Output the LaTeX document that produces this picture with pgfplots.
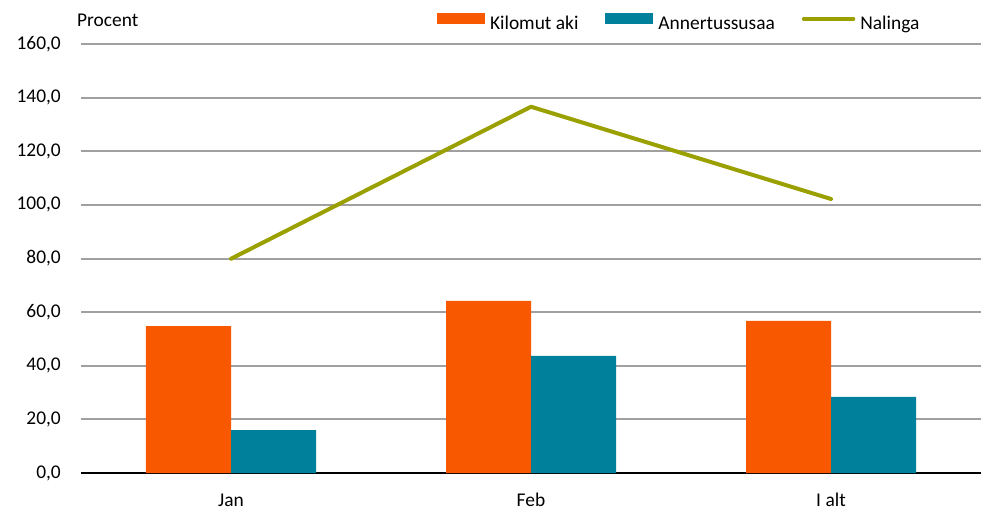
\documentclass[border=0pt]{standalone}
\usepackage{pgfplots}
\pgfplotsset{compat=1.18}
\usepackage{fontspec}
\setmainfont{Carlito}

\definecolor{kilorange}{HTML}{F85800}
\definecolor{annteal}{HTML}{00809A}
\definecolor{nalolive}{HTML}{99A000}
\definecolor{gridgray}{HTML}{A0A0A0}

\begin{document}
\fontsize{19.5}{23}\selectfont
\begin{tikzpicture}
\begin{axis}[
    name=ax,
    scale only axis,
    width=900bp, height=429bp,
    xmin=-0.5, xmax=2.5,
    ymin=0, ymax=160,
    xtick={0,1,2},
    xticklabels={Jan,Feb,I alt},
    ytick distance=20,
    ymajorgrids,
    grid style={gridgray, line width=2bp},
    axis line style={draw=none},
    major tick length=0pt,
    extra y ticks={0},
    extra y tick labels={},
    extra y tick style={grid style={black, line width=2.6bp}},
    /pgf/number format/.cd, fixed, fixed zerofill, precision=1, use comma, assume math mode=true,
    /pgfplots/.cd,
    yticklabel style={inner sep=0pt, anchor=east, xshift=-20bp},
    xticklabel style={anchor=base, yshift=-33bp},
    legend columns=-1,
    legend style={draw=none, fill=none, inner sep=0pt, outer sep=0pt,
        nodes={inner sep=0pt},
        anchor=west, at={(rel axis cs:0,1)}, xshift=356bp, yshift=21bp,
        /tikz/every odd column/.append style={column sep=5bp},
        /tikz/every even column/.append style={column sep=27bp}},
    clip=false,
]
\addplot[ybar, bar width=85bp, bar shift=-42.5bp, fill=kilorange, draw=none,
    legend image code/.code={\fill[kilorange] (0bp,0bp) rectangle (48bp,11bp);}]
    coordinates {(0,54.8) (1,64.2) (2,56.7)};
\addlegendentry{Kilomut aki}
\addplot[ybar, bar width=85bp, bar shift=42.5bp, fill=annteal, draw=none,
    legend image code/.code={\fill[annteal] (0bp,0bp) rectangle (48bp,11bp);}]
    coordinates {(0,16.0) (1,43.7) (2,28.4)};
\addlegendentry{Annertussusaa}
\addplot[sharp plot, no markers, nalolive, line width=4bp, line cap=round, line join=round,
    legend image code/.code={\draw[nalolive, line width=3.4bp, line cap=round] (0bp,5.5bp) -- (50bp,5.5bp);}]
    coordinates {(0,79.9) (1,136.6) (2,102.2)};
\addlegendentry{Nalinga}
\node[anchor=base west, inner sep=0pt] at ([shift={(-4bp,17bp)}]rel axis cs:0,1) {Procent};
\end{axis}
\path ([shift={(-81bp,-37bp)}]ax.south west) rectangle ([shift={(6bp,44bp)}]ax.north east);
\end{tikzpicture}
\end{document}
